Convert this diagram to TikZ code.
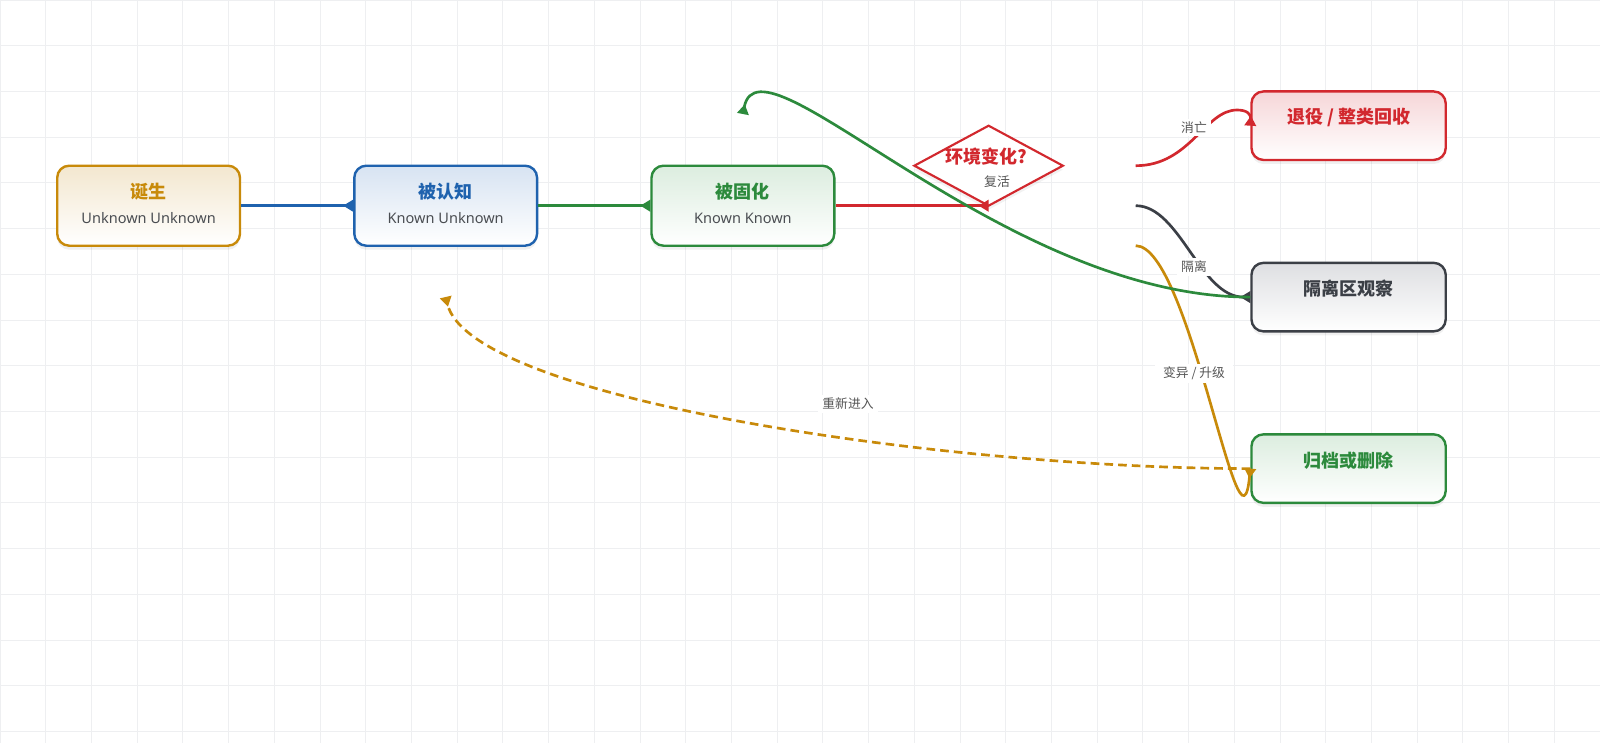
\documentclass[tikz,border=0pt]{standalone}
\usepackage{fontspec}
\setmainfont{Noto Sans}
\newfontfamily\cjk{Noto Sans CJK SC}
\usetikzlibrary{arrows.meta,shapes.geometric,shadows}
\definecolor{gridc}{HTML}{EEEFF1}
\definecolor{cgold}{HTML}{C88A0A}
\definecolor{cblue}{HTML}{1F62AE}
\definecolor{cgreen}{HTML}{2C8A3C}
\definecolor{cred}{HTML}{D2282E}
\definecolor{cdark}{HTML}{3B3F46}
\definecolor{fgold}{HTML}{F3E7CF}
\definecolor{fblue}{HTML}{D7E3F2}
\definecolor{fgreen}{HTML}{DCEDDF}
\definecolor{fred}{HTML}{F6D6D8}
\definecolor{fgray}{HTML}{DEDFE2}
\definecolor{txtgray}{HTML}{4A4D52}
\definecolor{lblgray}{HTML}{555555}
\tikzset{
  gridline/.style={draw=gridc, line width=0.75pt},
  box/.style={rectangle, rounded corners=9pt, line width=1.8pt, minimum width=137.1pt,
    minimum height=60pt, inner sep=0pt,
    drop shadow={shadow xshift=0pt, shadow yshift=-3pt, opacity=0.06, fill=black}},
  rbox/.style={box, minimum width=145.7pt, minimum height=51.4pt},
  ttl/.style={font=\cjk\bfseries\fontsize{13.5}{16}\selectfont, inner sep=0pt},
  sub/.style={font=\fontsize{10.9}{13}\selectfont, text=txtgray, inner sep=0pt},
  elabel/.style={fill=white, font=\cjk\fontsize{9.6}{11}\selectfont, text=lblgray,
    inner xsep=3pt, inner ysep=2pt},
  conn/.style={line width=2pt, -{Triangle[reversed,length=7.5pt,width=8.5pt]}},
}
\begin{document}
\begin{tikzpicture}[x=0.75pt, y=-0.75pt]
\useasboundingbox (0,0) rectangle (1600,743);
\fill[white] (0,0) rectangle (1600,743);
% grid
\foreach \i in {0,...,35} \draw[gridline] (\i*45.714,0) -- (\i*45.714,743);
\foreach \j in {0,...,16} \draw[gridline] (0,\j*45.714) -- (1600,\j*45.714);

% nodes
\node[box, draw=cgold, top color=fgold, bottom color=white] (b1) at (148.6,205.7) {};
\node[box, draw=cblue, top color=fblue, bottom color=white] (b2) at (445.7,205.7) {};
\node[box, draw=cgreen, top color=fgreen, bottom color=white] (b3) at (742.9,205.7) {};
\node[diamond, draw=cred, fill=white, line width=1.6pt, minimum width=111.4pt, minimum height=60pt,
  inner sep=0pt, outer sep=0pt,
  drop shadow={shadow xshift=0pt, shadow yshift=-3pt, opacity=0.05, fill=black}] (dia) at (988.6,165.7) {};
\node[rbox, draw=cred, top color=fred, bottom color=white] (ret) at (1348.6,125.7) {};
\node[rbox, draw=cdark, top color=fgray, bottom color=white] (iso) at (1348.6,297.1) {};
\node[rbox, draw=cgreen, top color=fgreen, bottom color=white] (arc) at (1348.6,468.6) {};

% texts
\node[ttl, text=cgold] (t1) at (148.6,191.8) {诞生};
\node[sub] (s1) at (148.6,218.4) {Unknown Unknown};
\node[ttl, text=cblue] (t2) at (445.7,191.8) {被认知};
\node[sub] (s2) at (445.7,218.4) {Known Unknown};
\node[ttl, text=cgreen] (t3) at (742.9,191.8) {被固化};
\node[sub] (s3) at (742.9,218.4) {Known Known};
\node[ttl, text=cred] (td) at (986,157) {环境变化?};
\node[ttl, text=cred] (tr) at (1348.6,117.3) {退役 / 整类回收};
\node[ttl, text=cdark] (ti) at (1348.6,288.8) {隔离区观察};
\node[ttl, text=cgreen] (ta) at (1348.6,460.2) {归档或删除};

% free connector ends
\coordinate (d1) at (1135.7,165.7);
\coordinate (d2) at (1135.7,205.7);
\coordinate (d3) at (1135.7,245.7);
\coordinate (gend) at (742.9,114);
\coordinate (rend) at (445.7,297);

% connectors
\draw[conn, cblue] (b1.east) -- (b2.west);
\draw[conn, cgreen] (b2.east) -- (b3.west);
\draw[conn, cred] (b3.east) -- (b3.east -| dia.south);
\draw[conn, cred] (d1) .. controls (1190,165.7) and (1205,110) .. (1237,110)
  .. controls (1247,110) and (1251,114) .. (ret.west);
\draw[conn, cdark] (d2) .. controls (1180,205.7) and (1200,297) .. (iso.west);
\draw[conn, cgold] (d3) .. controls (1190,245.7) and (1240,580) .. (arc.west);
\draw[conn, cgreen] (iso.west) .. controls (1000,297) and (760,25) .. (gend);
\draw[conn, cgold, dash pattern=on 6.5pt off 3.8pt] (arc.west) .. controls (950,468.6) and (470,400) .. (rend);

% edge labels
\node[elabel] (l1) at (1194,127.5) {消亡};
\node[elabel] (l2) at (997,181.6) {复活};
\node[elabel] (l3) at (1194,267) {隔离};
\node[elabel, inner xsep=6pt] (l4) at (1194,373.5) {变异 / 升级};
\node[elabel] (l5) at (848,404) {重新进入};
\end{tikzpicture}
\end{document}
